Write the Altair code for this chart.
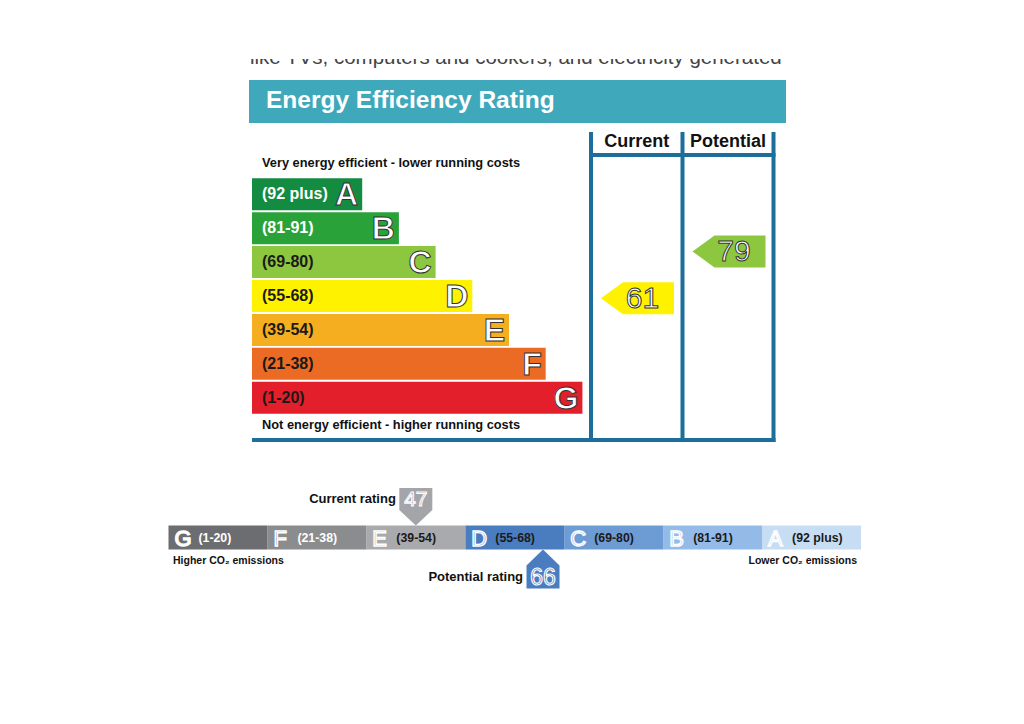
import altair as alt
import pandas as pd

# ---------------- data ----------------
bands = ["A", "B", "C", "D", "E", "F", "G"]
band_labels = ["(92 plus)", "(81-91)", "(69-80)", "(55-68)", "(39-54)", "(21-38)", "(1-20)"]
band_low = [92, 81, 69, 55, 39, 21, 1]
band_high = [100, 91, 80, 68, 54, 38, 20]
eer_colors = ["#138b41", "#2aa23a", "#8dc63f", "#fff200", "#f5ae1f", "#ec6b24", "#e21f2a"]
eer_label_colors = ["#ffffff", "#ffffff", "#1a1a1a", "#1a1a1a", "#1a1a1a", "#1a1a1a", "#1a1a1a"]
co2_colors = ["#c6ddf3", "#94bbe8", "#6d9bd4", "#4a7dbf", "#a9aaad", "#8b8c8e", "#6c6d70"]
co2_label_colors = ["#1a1a1a", "#1a1a1a", "#1a1a1a", "#1a1a1a", "#1a1a1a", "#ffffff", "#ffffff"]
rating_columns = ["Current", "Potential"]
eer_ratings = [61, 79]
co2_ratings = [47, 66]
co2_rating_names = ["Current rating", "Potential rating"]
pointer_colors = ["#a4a5a8", "#4a7dbf"]
title_text = "Energy Efficiency Rating"
top_note = "Very energy efficient - lower running costs"
bottom_note = "Not energy efficient - higher running costs"
co2_high_note = "Higher CO\u2082 emissions"
co2_low_note = "Lower CO\u2082 emissions"
cut_text = "like TVs, computers and cookers, and electricity generated"

# ---------------- layout (page pixels) ----------------
FONT = "Liberation Sans"
W, H = 1008, 708
PANEL_L, PANEL_R = 249, 786
HEAD_T, HEAD_B = 80, 123
BAR_L, BAR_T0, BAR_STEP, BAR_H = 252, 178.3, 33.9, 32
BAR_W0, BAR_DW = 110.2, 36.7
COL_LINES = [591, 682.5, 773.5]
LINE_W = 4
FRAME_T, FRAME_HL, FRAME_B = 132, 155, 440
ARROW_W, ARROW_H, ARROW_TIP = 73, 32, 22
CO2_L, CO2_R, CO2_T, CO2_B = 168.5, 861, 525.5, 549.5
SEG_W = (CO2_R - CO2_L) / len(bands)

XS = alt.Scale(domain=[8, 8 + W])
YS = alt.Scale(domain=[8, 8 + H], reverse=True)


def band_pos(v):
    for i, (lo, hi) in enumerate(zip(band_low, band_high)):
        if lo <= v <= hi:
            return i, (v - lo) / (hi - lo + 1)
    return len(bands) - 1, 0.0


def poly_path(points):
    s = max(max(abs(px), abs(py)) for px, py in points)
    d = "M" + " L".join(f"{px / s:.4f},{py / s:.4f}" for px, py in points) + " Z"
    return d, (2 * s) ** 2


def rect_layer(df):
    return alt.Chart(df).mark_rect(strokeWidth=0).encode(
        x=alt.X("x0:Q", scale=XS, axis=None), x2="x1:Q",
        y=alt.Y("y0:Q", scale=YS, axis=None), y2="y1:Q",
        color=alt.Color("color:N", scale=None),
    )


def text_layer(df, **kw):
    enc = dict(
        x=alt.X("x:Q", scale=XS, axis=None),
        y=alt.Y("y:Q", scale=YS, axis=None),
        text="text:N",
    )
    return alt.Chart(df).mark_text(font=FONT, **kw).encode(**enc)


# ---- EER bars ----
eer = pd.DataFrame({
    "band": bands, "label": band_labels, "color": eer_colors, "lcolor": eer_label_colors,
})
eer["i"] = range(len(bands))
eer["x0"] = BAR_L
eer["x1"] = BAR_L + BAR_W0 + eer["i"] * BAR_DW
eer["y0"] = BAR_T0 + eer["i"] * BAR_STEP
eer["y1"] = eer["y0"] + BAR_H
eer["ym"] = eer["y0"] + BAR_H / 2
eer["lx"] = BAR_L + 10
eer["bx"] = eer["x1"] - 4

bars = rect_layer(eer)
bar_labels = alt.Chart(eer).mark_text(font=FONT, fontWeight="bold", fontSize=16, align="left", baseline="middle").encode(
    x=alt.X("lx:Q", scale=XS, axis=None), y=alt.Y("ym:Q", scale=YS, axis=None),
    text="label:N", color=alt.Color("lcolor:N", scale=None))
bar_letters = alt.Chart(eer).mark_text(font=FONT, fontWeight="bold", fontSize=32, align="right", baseline="middle",
                                       fill="white", stroke="#333333", strokeWidth=1, dy=1).encode(
    x=alt.X("bx:Q", scale=XS, axis=None), y=alt.Y("ym:Q", scale=YS, axis=None), text="band:N")

# ---- header, frame ----
frame = pd.DataFrame([
    {"x0": PANEL_L, "x1": PANEL_R, "y0": HEAD_T, "y1": HEAD_B, "color": "#3fa8ba"},
])
lines = []
for c in COL_LINES:
    lines.append({"x0": c - LINE_W / 2, "x1": c + LINE_W / 2, "y0": FRAME_T, "y1": FRAME_B + 2, "color": "#1c6f9a"})
lines.append({"x0": COL_LINES[0] - LINE_W / 2, "x1": COL_LINES[-1] + LINE_W / 2, "y0": FRAME_HL - 2, "y1": FRAME_HL + 2, "color": "#1c6f9a"})
lines.append({"x0": BAR_L, "x1": COL_LINES[-1] + LINE_W / 2, "y0": FRAME_B - 2, "y1": FRAME_B + 2, "color": "#1c6f9a"})
frame = pd.concat([frame, pd.DataFrame(lines)], ignore_index=True)
frame_layer = rect_layer(frame)

title = text_layer(pd.DataFrame([{"x": 266, "y": 101, "text": title_text}]),
                   fontSize=24.5, fontWeight="bold", color="white", align="left", baseline="middle")
headers = text_layer(pd.DataFrame({
    "x": [(COL_LINES[0] + COL_LINES[1]) / 2, (COL_LINES[1] + COL_LINES[2]) / 2],
    "y": [142, 142], "text": rating_columns}),
    fontSize=18, fontWeight="bold", color="#111111", align="center", baseline="middle")
notes = text_layer(pd.DataFrame({"x": [262, 262], "y": [163, 425], "text": [top_note, bottom_note]}),
                   fontSize=12.8, fontWeight="bold", color="#111111", align="left", baseline="middle")

# cut-off text line at top of the page
cut = text_layer(pd.DataFrame([{"x": 250, "y": 64, "text": cut_text}]),
                 fontSize=20.5, color="#444444", align="left", baseline="alphabetic")
cover = rect_layer(pd.DataFrame([{"x0": 8, "x1": 8 + W, "y0": 8, "y1": 59, "color": "white"}]))

# ---- EER arrows ----
arr_rows = []
for k, (col, v) in enumerate(zip(rating_columns, eer_ratings)):
    i, f = band_pos(v)
    left = COL_LINES[k] + LINE_W / 2 + 8
    arr_rows.append({
        "x": left + ARROW_W / 2, "y": BAR_T0 + i * BAR_STEP + (1 - f) * BAR_H,
        "color": eer_colors[i], "text": str(v), "tx": left + ARROW_W / 2 + 5,
    })
arr = pd.DataFrame(arr_rows)
hw, hh = ARROW_W / 2, ARROW_H / 2
arrow_path, arrow_size = poly_path([(-hw, 0), (-hw + ARROW_TIP, -hh), (hw, -hh), (hw, hh), (-hw + ARROW_TIP, hh)])
arrows = alt.Chart(arr).mark_point(shape=arrow_path, size=arrow_size, filled=True, opacity=1, strokeWidth=0).encode(
    x=alt.X("x:Q", scale=XS, axis=None), y=alt.Y("y:Q", scale=YS, axis=None),
    color=alt.Color("color:N", scale=None))
arrow_txt = alt.Chart(arr).mark_text(font=FONT, fontSize=30, align="center", baseline="middle", dy=1,
                                     fill="white", stroke="#333333", strokeWidth=1).encode(
    x=alt.X("tx:Q", scale=XS, axis=None), y=alt.Y("y:Q", scale=YS, axis=None), text="text:N")

# ---- CO2 / environmental bar ----
co2 = pd.DataFrame({"band": bands, "label": band_labels, "color": co2_colors, "lcolor": co2_label_colors})
co2["j"] = [len(bands) - 1 - i for i in range(len(bands))]
co2["x0"] = CO2_L + co2["j"] * SEG_W
co2["x1"] = co2["x0"] + SEG_W
co2["y0"] = CO2_T
co2["y1"] = CO2_B
co2["ym"] = (CO2_T + CO2_B) / 2
co2["bx"] = co2["x0"] + 6
co2["lx"] = co2["x0"] + 30
co2["lfill"] = ["white" if b == "G" else c for b, c in zip(bands, co2_colors)]
co2["lstroke"] = ["white" for b in bands]
co2_bar = rect_layer(co2)
co2_letters = alt.Chart(co2).mark_text(font=FONT, fontSize=22, align="left", baseline="middle", dy=1,
                                       strokeWidth=1.4).encode(
    x=alt.X("bx:Q", scale=XS, axis=None), y=alt.Y("ym:Q", scale=YS, axis=None), text="band:N",
    fill=alt.Fill("lfill:N", scale=None), stroke=alt.Stroke("lstroke:N", scale=None))
co2_labels = alt.Chart(co2).mark_text(font=FONT, fontWeight="bold", fontSize=12.3, align="left", baseline="middle").encode(
    x=alt.X("lx:Q", scale=XS, axis=None), y=alt.Y("ym:Q", scale=YS, axis=None), text="label:N",
    color=alt.Color("lcolor:N", scale=None))
co2_notes = alt.layer(
    text_layer(pd.DataFrame([{"x": 173, "y": 561, "text": co2_high_note}]),
               fontSize=10.5, fontWeight="bold", color="#111111", align="left", baseline="middle"),
    text_layer(pd.DataFrame([{"x": 857, "y": 561, "text": co2_low_note}]),
               fontSize=10.5, fontWeight="bold", color="#111111", align="right", baseline="middle"),
)

# pointers
ptr = []
for k, v in enumerate(co2_ratings):
    i, f = band_pos(v)
    j = len(bands) - 1 - i
    ptr.append({"x": CO2_L + (j + f) * SEG_W, "v": str(v), "name": co2_rating_names[k], "color": pointer_colors[k]})
ptr = pd.DataFrame(ptr)
PW = 33
down_path, down_size = poly_path([(-PW / 2, -18.75), (PW / 2, -18.75), (PW / 2, 3.25), (0, 18.75), (-PW / 2, 3.25)])
up_path, up_size = poly_path([(0, -19.5), (PW / 2, -3.5), (PW / 2, 19.5), (-PW / 2, 19.5), (-PW / 2, -3.5)])

cur = ptr.iloc[[0]].copy()
cur["y"] = CO2_T - 18.75
cur["ty"] = CO2_T - 37.5 + 11
cur["lx"] = cur["x"] - 20
pot = ptr.iloc[[1]].copy()
pot["y"] = CO2_B + 19.5
pot["ty"] = CO2_B + 16 + 11.5
pot["lx"] = pot["x"] - 20


def pointer_layers(df, path, size, fs):
    shp = alt.Chart(df).mark_point(shape=path, size=size, filled=True, opacity=1, strokeWidth=0).encode(
        x=alt.X("x:Q", scale=XS, axis=None), y=alt.Y("y:Q", scale=YS, axis=None),
        color=alt.Color("color:N", scale=None))
    num = alt.Chart(df).mark_text(font=FONT, fontSize=fs, align="center", baseline="middle", dy=1,
                                  stroke="white", strokeWidth=1.1).encode(
        x=alt.X("x:Q", scale=XS, axis=None), y=alt.Y("ty:Q", scale=YS, axis=None), text="v:N",
        fill=alt.Fill("color:N", scale=None))
    lab = alt.Chart(df).mark_text(font=FONT, fontSize=13, fontWeight="bold", align="right", baseline="middle",
                                  color="#111111").encode(
        x=alt.X("lx:Q", scale=XS, axis=None), y=alt.Y("ty:Q", scale=YS, axis=None), text="name:N")
    return [shp, num, lab]


layers = [cut, cover, frame_layer, title, headers, notes, bars, bar_labels, bar_letters, arrows, arrow_txt,
          co2_bar, co2_letters, co2_labels, co2_notes] + pointer_layers(cur, down_path, down_size, 21) + \
    pointer_layers(pot, up_path, up_size, 23)

chart = alt.layer(*layers).properties(
    width=W, height=H, padding=0, autosize=alt.AutoSizeParams(type="none"), background="white"
).configure_view(stroke=None)

chart.save("out.html", embed_options={"renderer": "svg", "actions": False})
